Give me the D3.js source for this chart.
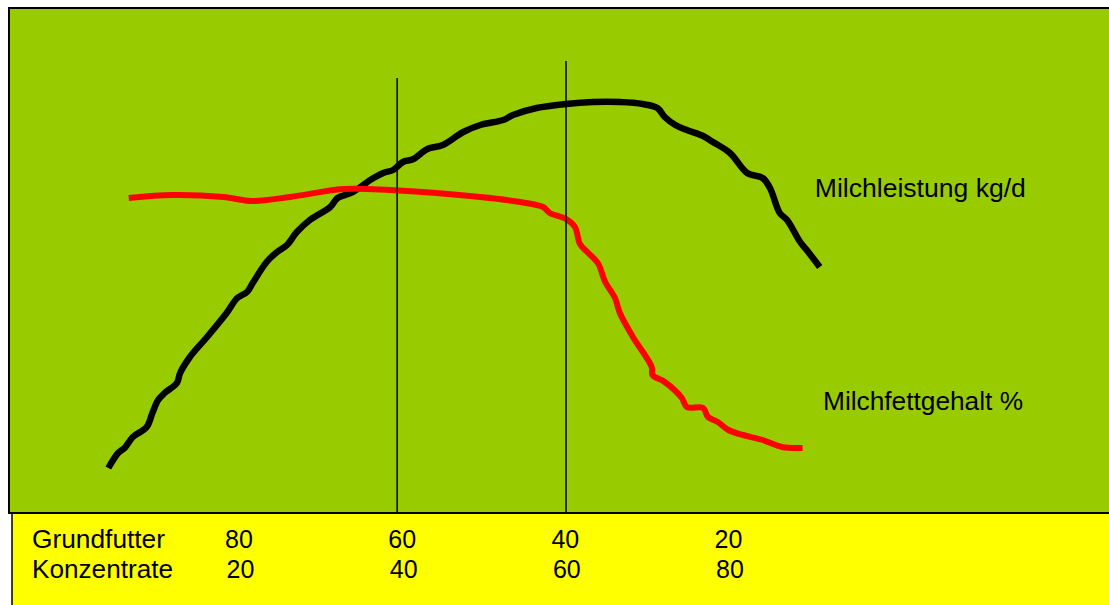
<!DOCTYPE html>
<html>
<head>
<meta charset="utf-8">
<script src="https://cdn.jsdelivr.net/npm/d3@7"></script>
<style>
  html, body { margin: 0; padding: 0; background: #ffffff; }
  svg { display: block; }
  text { font-family: "Liberation Sans", Arial, sans-serif; fill: #000; }
</style>
</head>
<body>
<svg id="chart" width="1109" height="605"></svg>
<script>
// Konzentrate share (%) on x; relative level (arbitrary units, 0-100) on y
const milchleistungK = [3.8,5.0,5.8,6.8,8.5,9.2,9.9,10.7,12.2,12.6,13.8,15.9,18.3,19.6,20.8,21.5,23.2,24.5,25.7,26.9,28.5,31.0,31.9,33.8,35.9,37.5,38.7,39.9,41.2,42.9,44.8,47.3,49.4,52.2,53.4,56.3,59.9,63.2,66.5,69.3,71.1,72.0,73.3,74.7,76.7,77.9,80.0,82.1,84.0,84.9,86.1,87.0,88.6,89.4,91.0];
const milchleistungV = [9.0,12.0,13.0,15.2,17.2,20.0,22.6,24.0,26.0,28.0,31.2,35.2,40.0,43.0,44.2,46.0,50.2,52.2,53.6,56.2,58.6,61.2,63.0,64.2,66.6,68.0,68.6,70.2,70.8,72.8,73.6,76.2,77.6,78.6,79.6,81.0,81.8,82.2,82.2,81.8,81.0,79.2,77.6,76.6,75.4,74.2,72.0,68.0,67.0,65.0,60.0,58.6,54.2,52.6,49.2];

const milchfettK = [6.3,11.7,17.9,21.4,26.1,32.6,38.3,49.4,54.3,57.1,57.9,59.9,61.0,61.6,62.5,63.8,64.7,65.9,66.5,68.1,70.4,70.5,72.0,74.1,74.7,76.7,77.3,78.5,79.8,81.6,84.0,86.4,88.9];
const milchfettV = [63.0,63.6,63.2,62.4,63.2,64.8,64.6,63.2,62.2,61.2,60.0,58.8,57.2,53.8,52.2,50.0,46.2,43.0,40.0,35.2,29.2,27.6,26.2,23.0,21.2,21.0,19.2,18.2,16.6,15.6,14.6,13.2,13.0];

const konzentrateTicks = [20, 40, 60, 80];
const grundfutterTicks = [80, 60, 40, 20];
const rowLabels = ["Grundfutter", "Konzentrate"];
const markerK = [39.2, 59.9];
const markerTop = [87.0, 90.4];
const seriesLabels = ["Milchleistung kg/d", "Milchfettgehalt %"];
const seriesLabelPos = [[90.4, 63.2], [91.4, 20.6]];

const svg = d3.select("#chart");
const x = d3.scaleLinear().domain([20, 80]).range([240.5, 730]);
const y = d3.scaleLinear().domain([0, 100]).range([513, 13]);

// yellow footer panel
svg.append("rect").attr("x", 12).attr("y", 513).attr("width", 1110).attr("height", 100)
  .attr("fill", "#ffff00").attr("stroke", "#000").attr("stroke-width", 1.5);
// green plot panel
svg.append("rect").attr("x", 9).attr("y", 8).attr("width", 1110).attr("height", 505)
  .attr("fill", "#99cc00").attr("stroke", "#000").attr("stroke-width", 2);

const line = d3.line().x(d => x(d[0])).y(d => y(d[1])).curve(d3.curveCatmullRom.alpha(0.5));
const ml = milchleistungK.map((k, i) => [k, milchleistungV[i]]);
const mf = milchfettK.map((k, i) => [k, milchfettV[i]]);

svg.append("path").datum(ml).attr("d", line).attr("fill", "none")
  .attr("stroke", "#000").attr("stroke-width", 6.5).attr("stroke-linejoin", "round");
svg.append("path").datum(mf).attr("d", line).attr("fill", "none")
  .attr("stroke", "#ff0000").attr("stroke-width", 6).attr("stroke-linejoin", "round");

svg.selectAll("line.marker").data(markerK).enter().append("line")
  .attr("class", "marker")
  .attr("x1", d => x(d)).attr("x2", d => x(d))
  .attr("y1", (d, i) => y(markerTop[i])).attr("y2", y(0))
  .attr("stroke", "#000").attr("stroke-width", 1.5);

const FS = 25;
// series labels
const seriesW = [211, 200];
svg.selectAll("text.series").data(seriesLabels).enter().append("text")
  .attr("class", "series")
  .attr("x", (d, i) => x(seriesLabelPos[i][0]))
  .attr("y", (d, i) => y(seriesLabelPos[i][1]))
  .attr("font-size", FS)
  .attr("textLength", (d, i) => seriesW[i]).attr("lengthAdjust", "spacingAndGlyphs")
  .text(d => d);

// footer rows
const rowY = [548, 578];
const rowW = [133, 141];
svg.selectAll("text.row").data(rowLabels).enter().append("text")
  .attr("class", "row").attr("x", 32).attr("y", (d, i) => rowY[i])
  .attr("font-size", FS)
  .attr("textLength", (d, i) => rowW[i]).attr("lengthAdjust", "spacingAndGlyphs")
  .text(d => d);

svg.selectAll("text.gf").data(grundfutterTicks).enter().append("text")
  .attr("class", "gf").attr("x", (d, i) => x(konzentrateTicks[i]) - 1.5).attr("y", rowY[0])
  .attr("text-anchor", "middle").attr("font-size", FS).text(d => d);
svg.selectAll("text.kz").data(konzentrateTicks).enter().append("text")
  .attr("class", "kz").attr("x", d => x(d)).attr("y", rowY[1])
  .attr("text-anchor", "middle").attr("font-size", FS).text(d => d);
</script>
</body>
</html>
